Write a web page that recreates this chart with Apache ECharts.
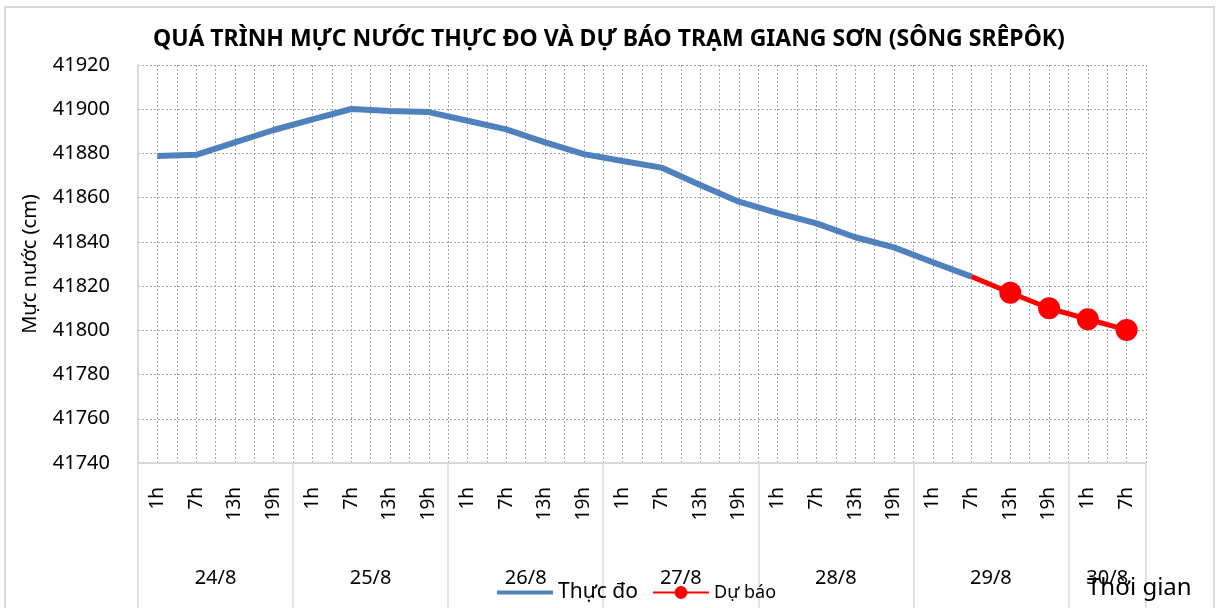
<!DOCTYPE html>
<html>
<head>
<meta charset="utf-8">
<script src="https://cdn.jsdelivr.net/npm/echarts@6/dist/echarts.min.js"></script>
<style>
	html, body { margin: 0; padding: 0; background: #fff; }
	#lineChart { width: 1218px; height: 608px; }
</style>
</head>
<body>
<div id="lineChart"></div>
<script>
	// giờ quan trắc trong mỗi ngày
	var hourList = ['1h', '7h', '13h', '19h', '1h', '7h', '13h', '19h', '1h', '7h', '13h', '19h',
		'1h', '7h', '13h', '19h', '1h', '7h', '13h', '19h', '1h', '7h', '13h', '19h', '1h', '7h'];
	var dayList = ['24/8', '25/8', '26/8', '27/8', '28/8', '29/8', '30/8'];
	var daySlots = [4, 4, 4, 4, 4, 4, 2];
	// mực nước thực đo (cm)
	var observedList = [41878.8, 41879.4, 41885.0, 41890.6, 41895.4, 41900.1, 41899.2, 41898.7,
		41894.8, 41890.9, 41885.0, 41879.7, 41876.6, 41873.6, 41865.7, 41858.2, 41853.0, 41848.4,
		41842.1, 41837.5, 41830.8, 41824.3];
	// mực nước dự báo (cm), bắt đầu từ điểm thực đo cuối
	var forecastStart = 21;
	var forecastList = [41824.3, 41817.0, 41810.0, 41805.0, 41800.2];
	var yMin = 41740, yMax = 41920, yStep = 20;

	// trục ngày: 27 mốc biên, nhãn nằm giữa mỗi nhóm
	var dayAxis = [];
	for (var i = 0; i <= hourList.length; i++) dayAxis.push('');
	var pos = 0;
	var tickIdx = [0];
	dayList.forEach(function (d, k) {
		dayAxis[pos + daySlots[k] / 2] = d;
		pos += daySlots[k];
		tickIdx.push(pos);
	});

	var forecastData = hourList.map(function () { return null; });
	forecastList.forEach(function (v, k) {
		forecastData[forecastStart + k] = k === 0 ? { value: v, symbol: 'none' } : v;
	});

	var font = 'Noto Sans';
	var chart = echarts.init(document.getElementById('lineChart'));
	var option = {
		animation: false,
		textStyle: { fontFamily: font, color: '#000' },
		title: [{
			text: 'QUÁ TRÌNH MỰC NƯỚC THỰC ĐO VÀ DỰ BÁO TRẠM GIANG SƠN (SÔNG SRÊPÔK)',
			left: 'center',
			top: 28,
			padding: 0,
			textStyle: { fontFamily: font, fontSize: 23, fontWeight: 'bold', color: '#000' }
		}, {
			text: 'Thời gian',
			left: 1087,
			top: 576,
			padding: 0,
			textStyle: { fontFamily: font, fontSize: 24, fontWeight: 'normal', color: '#000' }
		}],
		graphic: [{
			type: 'rect',
			shape: { x: 5, y: 7, width: 1209, height: 620 },
			style: { fill: 'none', stroke: '#d9d9d9', lineWidth: 2 },
			silent: true
		}],
		legend: {
			left: 492,
			top: 577,
			itemWidth: 56,
			itemHeight: 16,
			itemGap: 14,
			data: [
				{ name: 'Thực đo', icon: 'path://M0,0 H56 V4 H0 Z', textStyle: { fontSize: 21, color: '#000', fontFamily: font } },
				{ name: 'Dự báo', textStyle: { fontSize: 18, color: '#000', fontFamily: font } }
			]
		},
		grid: {
			left: 138,
			right: 72,
			top: 65,
			bottom: 145
		},
		xAxis: [{
			type: 'category',
			position: 'bottom',
			data: hourList,
			boundaryGap: true,
			axisLine: { lineStyle: { color: '#d9d9d9', width: 2 } },
			axisTick: { show: false },
			axisLabel: { rotate: 90, margin: 24, fontSize: 19, color: '#000', fontFamily: font, interval: 0 },
			splitLine: { show: false }
		}, {
			type: 'category',
			position: 'bottom',
			data: dayAxis,
			boundaryGap: false,
			axisLine: { show: false },
			axisTick: {
				show: true,
				length: 145,
				interval: function (idx) { return tickIdx.indexOf(idx) >= 0; },
				lineStyle: { color: '#d9d9d9', width: 1.5 }
			},
			axisLabel: {
				margin: 105,
				fontSize: 20,
				color: '#000',
				fontFamily: font,
				interval: function (idx, val) { return val !== ''; }
			},
			splitLine: { show: false }
		}, {
			type: 'value',
			position: 'top',
			min: 0,
			max: hourList.length,
			interval: 0.5,
			axisLine: { show: false },
			axisTick: { show: false },
			axisLabel: { show: false },
			splitLine: { show: true, lineStyle: { type: [2, 2], color: '#a6a6a6', width: 1 } }
		}],
		yAxis: {
			type: 'value',
			min: yMin,
			max: yMax,
			interval: yStep,
			name: 'Mực nước (cm)',
			nameLocation: 'middle',
			nameGap: 98,
			nameTextStyle: { fontSize: 20, color: '#000', fontFamily: font },
			axisLine: { show: true, lineStyle: { color: '#d9d9d9', width: 2 } },
			axisTick: { show: false },
			axisLabel: {
				margin: 28, fontSize: 20, color: '#000', fontFamily: font,
				formatter: function (v) { return String(v); }
			},
			splitLine: { show: true, lineStyle: { type: [2, 2], color: '#a6a6a6', width: 1 } }
		},
		series: [{
			name: 'Thực đo',
			type: 'line',
			xAxisIndex: 0,
			data: observedList,
			symbol: 'none',
			lineStyle: { color: '#4f81bd', width: 6 },
			itemStyle: { color: '#4f81bd' },
			z: 3
		}, {
			name: 'Dự báo',
			type: 'line',
			xAxisIndex: 0,
			data: forecastData,
			symbol: 'circle',
			symbolSize: 22,
			showAllSymbol: true,
			lineStyle: { color: '#ff0000', width: 5 },
			itemStyle: { color: '#ff0000' },
			z: 4
		}]
	};
	chart.setOption(option);
</script>
</body>
</html>
